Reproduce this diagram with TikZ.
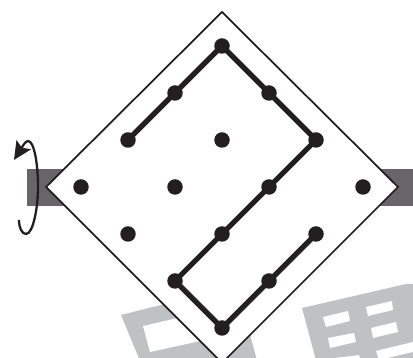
\documentclass[tikz,border=0pt]{standalone}
\usetikzlibrary{arrows.meta}
\definecolor{bargray}{HTML}{676567}
\definecolor{markgray}{HTML}{C0C1C3}
\definecolor{inkblack}{HTML}{231F20}
\tikzset{
  dot/.style={circle, fill=inkblack, inner sep=0pt, minimum size=0.31cm},
  trace/.style={draw=inkblack, line width=3pt},
}
\begin{document}
\begin{tikzpicture}[scale=0.02]
\useasboundingbox (0,0) rectangle (413,358);
\clip (0,0) rectangle (413,358);

% gray marks behind the plate
\fill[markgray] (121,43) -- (237,72) -- (259,-10) -- (143,-10) -- cycle;
\fill[white] (143,32) -- (230,52) -- (214,20) -- (150,6) -- cycle;
\fill[markgray] (302,50) -- (406,74) -- (430,74) -- (430,-10) -- (318,-10) -- cycle;
\fill[white] (323,41) -- (348,47) -- (350,37) -- (326,31) -- cycle;
\fill[white] (366,51) -- (392,57) -- (393,48) -- (368,42) -- cycle;
\fill[white] (328,20) -- (354,25) -- (356,16) -- (330,10) -- cycle;
\fill[white] (371,30) -- (396,36) -- (398,26) -- (373,20) -- cycle;
\fill[white] (376,7) -- (413,16) -- (413,6) -- (379,-2) -- cycle;
\fill[white] (335,0) -- (359,3) -- (360,0) -- cycle;

% shaft
\fill[bargray] (27,152) rectangle (120,189);
\fill[bargray] (300,152) rectangle (413,189);

% plate
\draw[fill=white, draw=inkblack, line width=1pt] (222,346) -- (46,171) -- (222,-5) -- (398,171) -- cycle;

% rotation arrow
\coordinate (turnstart) at (19,138);
\coordinate (turnend) at (14,198);
\draw[inkblack, line width=1.3pt, -{Stealth[length=0.36cm, width=0.34cm, inset=0.07cm]}] (turnstart) .. controls (19,130) and (22,124) .. (26,124) .. controls (33,124) and (38,150) .. (38,171) .. controls (38,195) and (34,217) .. (28,217) .. controls (25,217) and (21,209) .. (turnend);

% pegs
\node[dot] (p1) at (222,312) {};
\node[dot] (p2) at (175,265) {};
\node[dot] (p3) at (269,265) {};
\node[dot] (p4) at (128,218) {};
\node[dot] (p5) at (222,218) {};
\node[dot] (p6) at (316,218) {};
\node[dot] (p7) at (81,171) {};
\node[dot] (p8) at (175,171) {};
\node[dot] (p9) at (269,171) {};
\node[dot] (p10) at (363,171) {};
\node[dot] (p11) at (128,124) {};
\node[dot] (p12) at (222,124) {};
\node[dot] (p13) at (316,124) {};
\node[dot] (p14) at (175,77) {};
\node[dot] (p15) at (269,77) {};
\node[dot] (p16) at (222,30) {};

\draw[trace] (p4.center) -- (p2.center) -- (p1.center) -- (p3.center) -- (p6.center) -- (p9.center) -- (p12.center) -- (p14.center) -- (p16.center) -- (p15.center) -- (p13.center);
\end{tikzpicture}
\end{document}
